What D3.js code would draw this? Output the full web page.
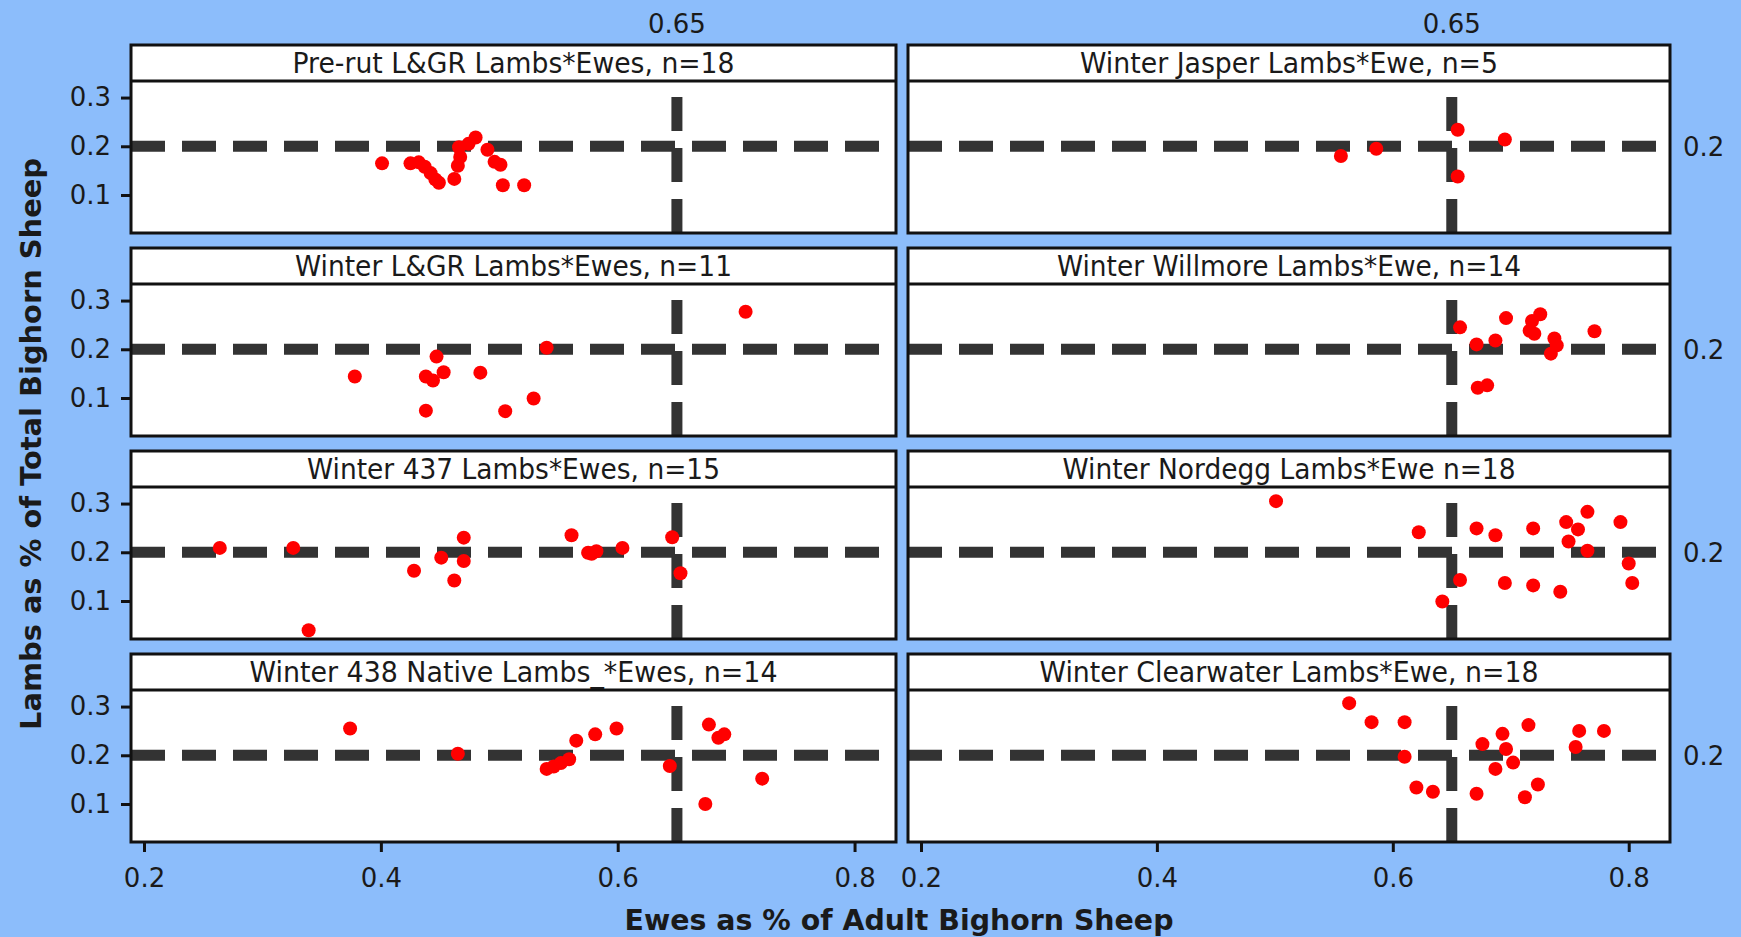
<!DOCTYPE html>
<html>
<head>
<meta charset="utf-8">
<script src="https://cdn.jsdelivr.net/npm/d3@7"></script>
<style>
  body { margin: 0; background: #8cbdfb; }
  svg { display: block; }
  text { font-family: "DejaVu Sans", sans-serif; fill: #1a1a1a; }
</style>
</head>
<body>
<div class="chart"></div>
<script>

// panel titles, row by row (left, right)
var titles = [
  "Pre-rut L&GR Lambs*Ewes, n=18",
  "Winter Jasper Lambs*Ewe, n=5",
  "Winter L&GR Lambs*Ewes, n=11",
  "Winter Willmore Lambs*Ewe, n=14",
  "Winter 437 Lambs*Ewes, n=15",
  "Winter Nordegg Lambs*Ewe n=18",
  "Winter 438 Native Lambs_*Ewes, n=14",
  "Winter Clearwater Lambs*Ewe, n=18"
];

// [ewes as share of adults, lambs as share of total]
var prerutLGR = [[0.401,0.165],[0.425,0.165],[0.432,0.167],[0.437,0.158],[0.442,0.145],[0.446,0.132],
  [0.449,0.125],[0.462,0.133],[0.465,0.160],[0.467,0.178],[0.466,0.198],[0.474,0.205],[0.480,0.218],
  [0.490,0.193],[0.496,0.168],[0.501,0.162],[0.503,0.120],[0.521,0.120]];
var winterJasper = [[0.556,0.180],[0.586,0.195],[0.655,0.234],[0.655,0.138],[0.695,0.214]];
var winterLGR = [[0.378,0.144],[0.438,0.074],[0.438,0.144],[0.444,0.136],[0.447,0.185],[0.453,0.153],
  [0.484,0.152],[0.505,0.073],[0.529,0.099],[0.540,0.203],[0.708,0.277]];
var winterWillmore = [[0.657,0.245],[0.671,0.210],[0.672,0.121],[0.680,0.126],[0.687,0.218],[0.696,0.264],
  [0.716,0.238],[0.718,0.258],[0.725,0.272],[0.720,0.232],[0.737,0.222],[0.734,0.191],[0.739,0.208],[0.771,0.237]];
var winter437 = [[0.264,0.209],[0.326,0.209],[0.339,0.040],[0.428,0.162],[0.451,0.189],[0.462,0.142],
  [0.470,0.230],[0.470,0.182],[0.561,0.235],[0.575,0.199],[0.578,0.197],[0.582,0.202],[0.604,0.209],
  [0.646,0.231],[0.653,0.157]];
var winterNordegg = [[0.501,0.305],[0.622,0.241],[0.642,0.099],[0.657,0.143],[0.671,0.249],[0.687,0.235],
  [0.695,0.137],[0.719,0.249],[0.719,0.132],[0.742,0.119],[0.747,0.262],[0.749,0.222],[0.757,0.247],
  [0.765,0.283],[0.765,0.203],[0.793,0.262],[0.800,0.177],[0.803,0.137]];
var winter438Native = [[0.374,0.255],[0.465,0.203],[0.540,0.172],[0.546,0.177],[0.552,0.184],[0.559,0.192],
  [0.565,0.230],[0.581,0.243],[0.599,0.255],[0.644,0.178],[0.674,0.100],[0.677,0.263],[0.685,0.236],
  [0.690,0.243],[0.722,0.152]];
var winterClearwater = [[0.563,0.307],[0.582,0.268],[0.610,0.268],[0.610,0.197],[0.620,0.134],[0.634,0.125],
  [0.671,0.121],[0.676,0.223],[0.687,0.172],[0.693,0.244],[0.696,0.213],[0.702,0.185],[0.712,0.114],
  [0.715,0.262],[0.723,0.140],[0.755,0.217],[0.758,0.250],[0.779,0.250]];

var panels = [prerutLGR, winterJasper, winterLGR, winterWillmore,
              winter437, winterNordegg, winter438Native, winterClearwater];

var xTicks = [0.2, 0.4, 0.6, 0.8];
var yTicks = [0.1, 0.2, 0.3];
var refX = 0.65, refY = 0.2;

// layout
var width = 1741, height = 937;
var cols = [{x0: 131, x1: 896}, {x0: 908, x1: 1670}];
var rowTop = 45, rowStep = 203, stripH = 36, plotH = 152;
var titleWidths = [442, 418, 437, 464, 413, 453, 528, 499];

var svg = d3.select("div.chart").append("svg")
    .attr("width", width)
    .attr("height", height);

panels.forEach(function(data, i) {
  var r = Math.floor(i / 2), c = i % 2;
  var w = cols[c].x1 - cols[c].x0;

  var x = d3.scaleLinear().domain([0.189, 0.835]).range([0, w]);
  var y = d3.scaleLinear().domain([0.022, 0.334]).range([stripH + plotH, stripH]);

  var g = svg.append("g")
      .attr("transform", "translate(" + cols[c].x0 + "," + (rowTop + r * rowStep) + ")");

  g.append("rect")
      .attr("width", w)
      .attr("height", stripH + plotH)
      .attr("fill", "white");

  // reference lines
  g.append("line")
      .attr("x1", 0).attr("x2", w)
      .attr("y1", y(refY)).attr("y2", y(refY))
      .attr("stroke", "#333").attr("stroke-width", 11)
      .attr("stroke-dasharray", "34,17");

  g.append("line")
      .attr("x1", x(refX)).attr("x2", x(refX))
      .attr("y1", stripH + plotH).attr("y2", stripH)
      .attr("stroke", "#333").attr("stroke-width", 11)
      .attr("stroke-dasharray", "34,17");

  g.append("g")
    .selectAll("circle")
    .data(data)
    .enter().append("circle")
      .attr("cx", function(d) { return x(d[0]); })
      .attr("cy", function(d) { return y(d[1]); })
      .attr("r", 7)
      .attr("fill", "#ff0000");

  // frame + strip
  g.append("rect")
      .attr("width", w)
      .attr("height", stripH + plotH)
      .attr("fill", "none")
      .attr("stroke", "#111")
      .attr("stroke-width", 3);

  g.append("line")
      .attr("x1", 0).attr("x2", w)
      .attr("y1", stripH).attr("y2", stripH)
      .attr("stroke", "#111").attr("stroke-width", 3);

  g.append("text")
      .attr("x", w / 2)
      .attr("y", 27.5)
      .attr("text-anchor", "middle")
      .attr("font-size", 29)
      .attr("textLength", titleWidths[i])
      .attr("lengthAdjust", "spacingAndGlyphs")
      .text(titles[i]);

  if (c == 0) {
    g.append("g")
        .attr("class", "axis")
        .call(d3.axisLeft(y).tickValues(yTicks).tickSize(10).tickPadding(10).tickFormat(d3.format(".1f")));
  } else {
    g.append("text")
        .attr("x", w + 13)
        .attr("y", y(refY))
        .attr("dy", "0.36em")
        .attr("font-size", 26)
        .text(refY.toFixed(1));
  }

  if (r == 0) {
    g.append("text")
        .attr("x", x(refX))
        .attr("y", -12)
        .attr("text-anchor", "middle")
        .attr("font-size", 26)
        .text(refX.toFixed(2));
  }

  if (r == 3) {
    g.append("g")
        .attr("class", "axis")
        .attr("transform", "translate(0," + (stripH + plotH) + ")")
        .call(d3.axisBottom(x).tickValues(xTicks).tickSize(10).tickPadding(17).tickFormat(d3.format(".1f")));
  }
});

svg.selectAll(".axis .domain").remove();
svg.selectAll(".axis line").attr("stroke", "#111").attr("stroke-width", 3);
svg.selectAll(".axis text")
    .attr("font-family", "DejaVu Sans, sans-serif")
    .attr("font-size", 26)
    .attr("fill", "#1a1a1a");

svg.append("text")
    .attr("x", 899)
    .attr("y", 930)
    .attr("text-anchor", "middle")
    .attr("font-weight", "bold")
    .attr("font-size", 29)
    .attr("textLength", 549)
    .attr("lengthAdjust", "spacingAndGlyphs")
    .text("Ewes as % of Adult Bighorn Sheep");

svg.append("text")
    .attr("transform", "translate(41,444) rotate(-90)")
    .attr("text-anchor", "middle")
    .attr("font-weight", "bold")
    .attr("font-size", 29)
    .attr("textLength", 572)
    .attr("lengthAdjust", "spacingAndGlyphs")
    .text("Lambs as % of Total Bighorn Sheep");

</script>
</body>
</html>
